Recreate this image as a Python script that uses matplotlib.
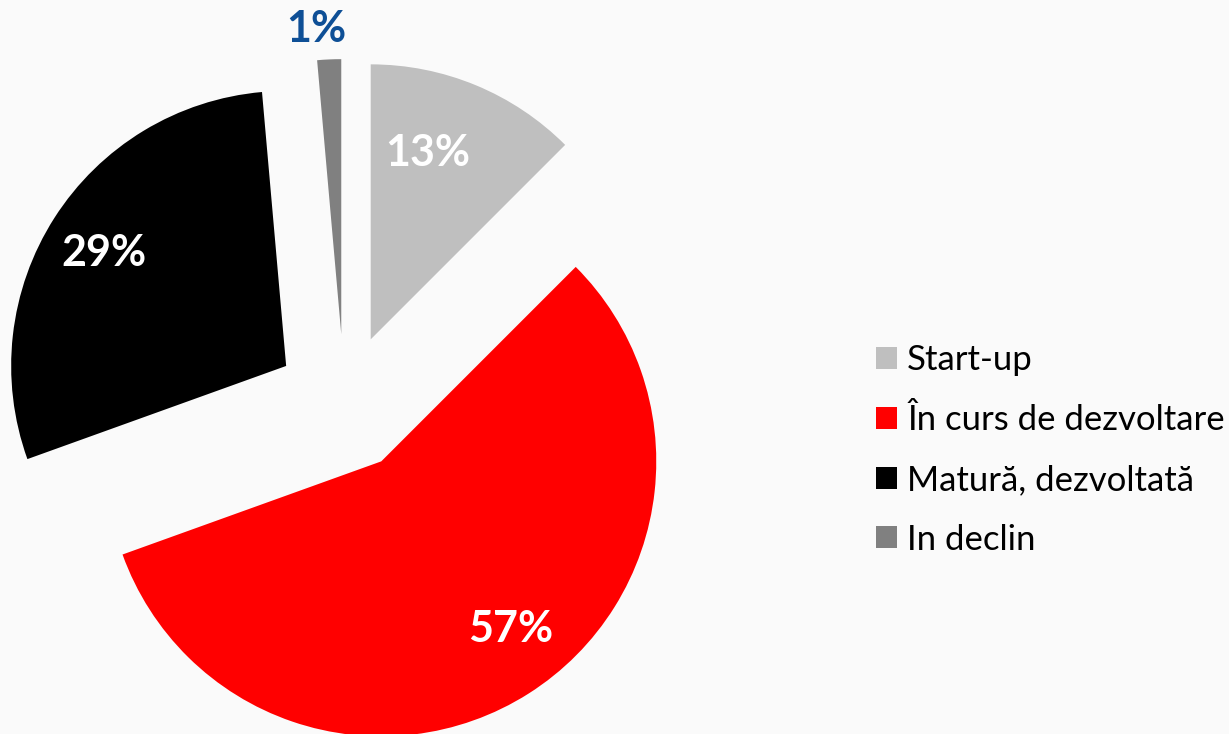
import numpy as np
import matplotlib
matplotlib.use("Agg")
import matplotlib.pyplot as plt

# stage shares (percent)
stages = ["Start-up", "În curs de dezvoltare", "Matură, dezvoltată", "In declin"]
shares = [12.5, 57.0, 29.1, 1.4]
pct_labels = ["13%", "57%", "29%", "1%"]
colors = ["#BFBFBF", "#FF0000", "#000000", "#808080"]
label_colors = ["white", "white", "white", "#0E4F96"]

# label placement: fraction of radius from wedge apex, angle shift in degrees
label_dist = [0.71, 0.77, 0.78, 1.115]
label_shift = [5.4, 5.2, 0.7, 2.2]

W, H = 1229, 734
BG = "#FAFAFA"
plt.rcParams["font.family"] = ["Lato", "DejaVu Sans"]

fig = plt.figure(figsize=(W / 100, H / 100), dpi=100, facecolor=BG)
ax = fig.add_axes([0, 0, 1, 1])
ax.set_facecolor(BG)

radius = 275
center = (344.3, H - 403.1)
wedges, _ = ax.pie(
    shares,
    colors=colors,
    startangle=90,
    counterclock=False,
    radius=radius,
    center=center,
    explode=[69] * len(shares),
    wedgeprops=dict(linewidth=0),
)
ax.set_xlim(0, W)
ax.set_ylim(0, H)
ax.set_aspect("equal")
ax.axis("off")

for w, txt, col, d, sh in zip(wedges, pct_labels, label_colors, label_dist, label_shift):
    mid = np.deg2rad((w.theta1 + w.theta2) / 2 + sh)
    cx, cy = w.center
    ax.text(cx + d * w.r * np.cos(mid), cy + d * w.r * np.sin(mid), txt,
            ha="center", va="center", color=col, fontsize=31, fontweight="bold")

fig.legend(wedges, stages, loc="center left",
           bbox_to_anchor=(876 / W, (H - 450) / H),
           frameon=False, fontsize=25, handlelength=0.6, handleheight=0.6,
           handletextpad=0.3, labelspacing=0.8, borderpad=0, borderaxespad=0)

fig.savefig("out.png", dpi=100, facecolor=BG)
